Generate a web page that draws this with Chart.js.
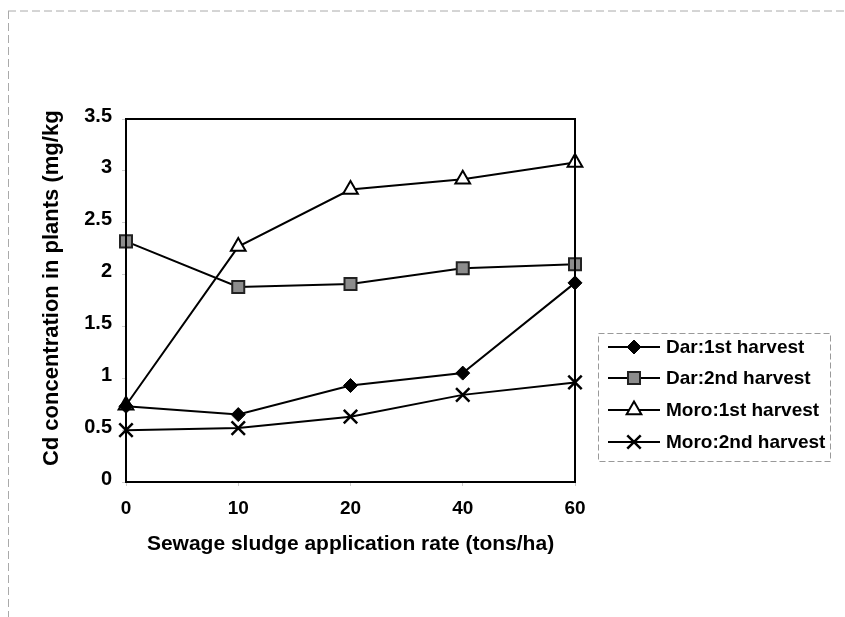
<!DOCTYPE html>
<html>
<head>
<meta charset="utf-8">
<script src="https://cdn.jsdelivr.net/npm/chart.js@4.4.1/dist/chart.umd.min.js"></script>
<style>
  body { margin: 0; background: #fff; }
  canvas { display: block; }
</style>
</head>
<body>
<canvas id="cd-chart" width="845" height="617"></canvas>
<script>
// Datos
const rates = ['0', '10', '20', '40', '60'];
const darFirst = [0.73, 0.65, 0.93, 1.05, 1.92];
const darSecond = [2.32, 1.88, 1.91, 2.06, 2.10];
const moroFirst = [0.74, 2.27, 2.82, 2.92, 3.08];
const moroSecond = [0.50, 0.52, 0.63, 0.84, 0.96];
const seriesNames = ['Dar:1st harvest', 'Dar:2nd harvest', 'Moro:1st harvest', 'Moro:2nd harvest'];

const FONT = "'Liberation Sans', Arial, sans-serif";

// Marco del área de trazado y bordes de la figura
const frame = {
    id: 'frame',
    afterDraw(chart) {
        const ctx = chart.ctx;
        const a = chart.chartArea;
        ctx.save();
        ctx.strokeStyle = '#000';
        ctx.lineWidth = 2;
        ctx.strokeRect(a.left, a.top, a.right - a.left, a.bottom - a.top);

        ctx.strokeStyle = '#aaa';
        ctx.lineWidth = 1;
        ctx.setLineDash([8, 4]);
        ctx.beginPath();
        ctx.moveTo(8, 11); ctx.lineTo(845, 11);
        ctx.moveTo(8.5, 11); ctx.lineTo(8.5, 617);
        ctx.stroke();
        ctx.restore();
    }
};

// Leyenda dibujada a mano (línea + marcador)
const sideLegend = {
    id: 'sideLegend',
    afterDraw(chart) {
        const ctx = chart.ctx;
        ctx.save();
        ctx.strokeStyle = '#999';
        ctx.lineWidth = 1;
        ctx.setLineDash([6, 3]);
        ctx.strokeRect(598.5, 333.5, 232, 128);
        ctx.setLineDash([]);

        const rows = [347, 378, 410, 442];
        chart.data.datasets.forEach((ds, i) => {
            const y = rows[i];
            ctx.strokeStyle = '#000';
            ctx.lineWidth = 2;
            ctx.beginPath();
            ctx.moveTo(608, y);
            ctx.lineTo(660, y);
            ctx.stroke();
            ctx.fillStyle = ds.pointBackgroundColor;
            ctx.strokeStyle = ds.pointBorderColor;
            ctx.lineWidth = ds.pointBorderWidth;
            Chart.helpers.drawPoint(ctx, {
                pointStyle: ds.pointStyle,
                radius: ds.pointRadius,
                borderWidth: ds.pointBorderWidth,
                rotation: 0
            }, 634, y);
            ctx.fillStyle = '#000';
            ctx.font = 'bold 19px ' + FONT;
            ctx.textBaseline = 'middle';
            ctx.fillText(ds.label, 666, y + 1);
        });
        ctx.restore();
    }
};

const ctx = document.getElementById('cd-chart').getContext('2d');

new Chart(ctx, {
    type: 'line',
    data: {
        labels: rates,
        datasets: [
            {
                label: seriesNames[0],
                data: darFirst,
                borderColor: '#000',
                borderWidth: 2,
                pointStyle: 'rectRot',
                pointRadius: 7,
                pointBackgroundColor: '#000',
                pointBorderColor: '#000',
                pointBorderWidth: 1
            },
            {
                label: seriesNames[1],
                data: darSecond,
                borderColor: '#000',
                borderWidth: 2,
                pointStyle: 'rect',
                pointRadius: 8.5,
                pointBackgroundColor: '#8c8c8c',
                pointBorderColor: '#222',
                pointBorderWidth: 2
            },
            {
                label: seriesNames[2],
                data: moroFirst,
                borderColor: '#000',
                borderWidth: 2,
                pointStyle: 'triangle',
                pointRadius: 8.5,
                pointBackgroundColor: '#fff',
                pointBorderColor: '#000',
                pointBorderWidth: 2
            },
            {
                label: seriesNames[3],
                data: moroSecond,
                borderColor: '#000',
                borderWidth: 2,
                pointStyle: 'crossRot',
                pointRadius: 9.5,
                pointBackgroundColor: '#000',
                pointBorderColor: '#000',
                pointBorderWidth: 2.5
            }
        ]
    },
    options: {
        responsive: false,
        animation: false,
        layout: { padding: { left: 0, top: 119, right: 270, bottom: 0 } },
        plugins: {
            legend: { display: false },
            tooltip: { enabled: false }
        },
        scales: {
            x: {
                type: 'category',
                offset: false,
                afterFit: s => { s.height = 135; },
                border: { display: false },
                grid: { drawOnChartArea: false, tickLength: 4, color: '#ccc' },
                ticks: {
                    color: '#000',
                    padding: 11,
                    maxRotation: 0,
                    font: { family: FONT, size: 19, weight: 'bold' }
                },
                title: {
                    display: true,
                    text: 'Sewage sludge application rate (tons/ha)',
                    color: '#000',
                    padding: { top: 0, bottom: 60 },
                    font: { family: FONT, size: 21, weight: 'bold' }
                }
            },
            y: {
                min: 0,
                max: 3.5,
                afterFit: s => { s.width = 126; },
                border: { display: false },
                grid: { drawOnChartArea: false, tickLength: 4, color: '#ccc' },
                ticks: {
                    stepSize: 0.5,
                    color: '#000',
                    padding: 10,
                    labelOffset: -3,
                    callback: v => String(Number(v.toFixed(1))),
                    font: { family: FONT, size: 20, weight: 'bold' }
                },
                title: {
                    display: true,
                    text: '    Cd concentration in plants (mg/kg',
                    color: '#000',
                    padding: { top: 39, bottom: 0 },
                    font: { family: FONT, size: 22, weight: 'bold' }
                }
            }
        }
    },
    plugins: [frame, sideLegend]
});
</script>
</body>
</html>
